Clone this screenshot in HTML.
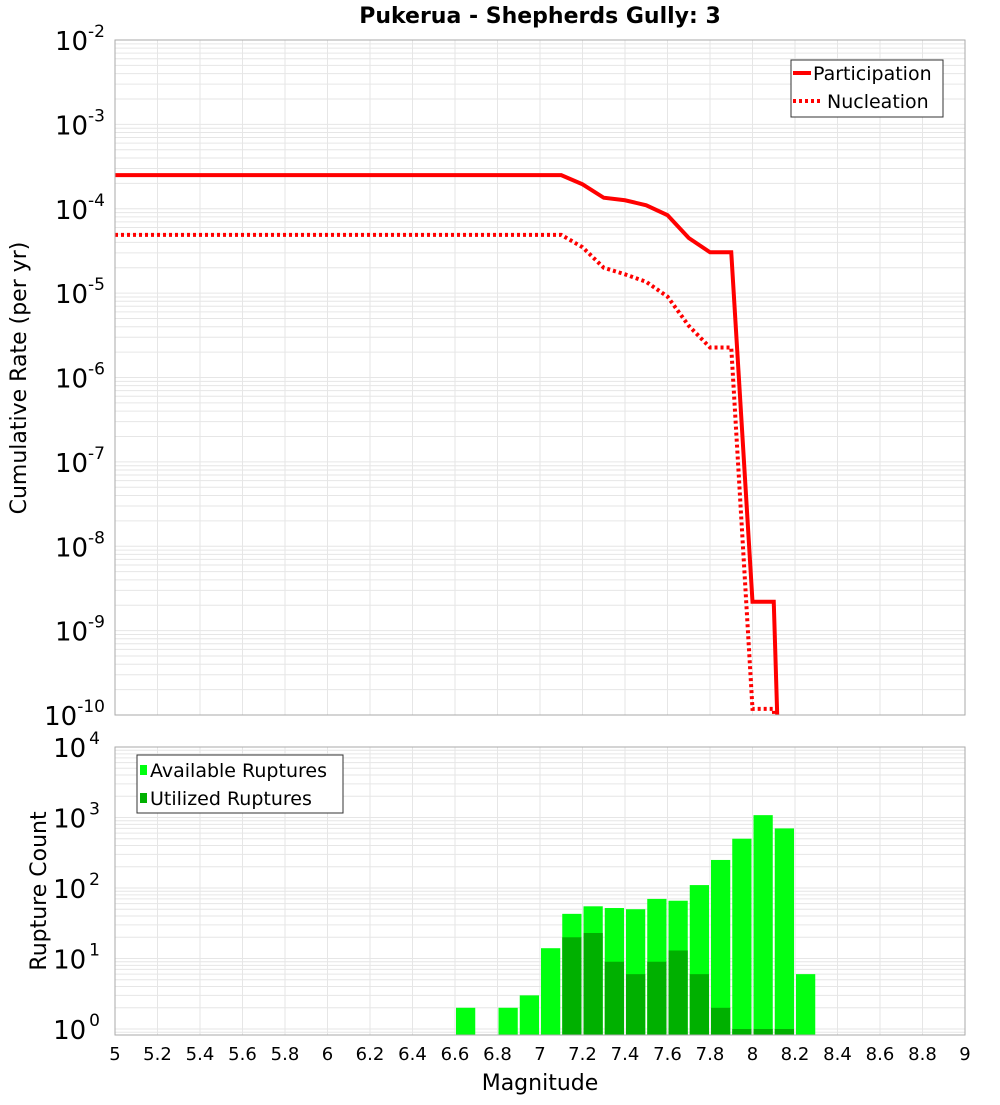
<!DOCTYPE html>
<html><head><meta charset="utf-8"><style>
body{margin:0;background:#fff;}
svg text{font-family:"DejaVu Sans","Liberation Sans",sans-serif;}
</style></head><body>
<svg id="chart" width="1000" height="1100" xmlns="http://www.w3.org/2000/svg">
<rect width="1000" height="1100" fill="#fff"/>
<text x="540" y="23" text-anchor="middle" font-size="22" font-weight="bold">Pukerua - Shepherds Gully: 3</text>
<g id="topPanel"></g>
<g id="botPanel"></g>
<text transform="translate(26,378) rotate(-90)" text-anchor="middle" font-size="22">Cumulative Rate (per yr)</text>
<text transform="translate(46,891) rotate(-90)" text-anchor="middle" font-size="22">Rupture Count</text>
<text x="540" y="1090" text-anchor="middle" font-size="22">Magnitude</text>
</svg>
<script>
const partMags=[5,7.1,7.2,7.3,7.4,7.5,7.6,7.7,7.8,7.9,8.0,8.1,8.12];
const partRates=[2.5e-4,2.5e-4,1.95e-4,1.35e-4,1.26e-4,1.1e-4,8.4e-5,4.5e-5,3.05e-5,3.05e-5,2.2e-9,2.2e-9,5e-11];
const nuclMags=[5,7.1,7.2,7.3,7.4,7.5,7.6,7.7,7.8,7.9,8.0,8.1,8.11];
const nuclRates=[4.9e-5,4.9e-5,3.5e-5,2.0e-5,1.67e-5,1.36e-5,9.1e-6,4.1e-6,2.27e-6,2.27e-6,1.18e-10,1.18e-10,5e-11];
const binMags=[6.6,6.8,6.9,7.0,7.1,7.2,7.3,7.4,7.5,7.6,7.7,7.8,7.9,8.0,8.1,8.2];
const availCounts=[2,2,3,14,43,55,52,50,70,66,110,250,500,1080,700,6];
const usedCounts=[0,0,0,0,20,23,9,6,9,13,6,2,1,1,1,0];
const xTicks=["5","5.2","5.4","5.6","5.8","6","6.2","6.4","6.6","6.8","7","7.2","7.4","7.6","7.8","8","8.2","8.4","8.6","8.8","9"];

const NS="http://www.w3.org/2000/svg";
const L=115,R=965;
const x=m=>L+(m-5)/4*(R-L);
const T1=40,B1=715; const yTop=v=>T1+(-2-Math.log10(v))/8*(B1-T1);
const T2=747,B2=1035,MIN2=-0.085; const yBot=v=>B2-(Math.log10(v)-MIN2)/(4-MIN2)*(B2-T2);
function mk(p,tag,a){const e=document.createElementNS(NS,tag);for(const k in a)e.setAttribute(k,a[k]);p.appendChild(e);return e;}
const topG=document.getElementById('topPanel'),botG=document.getElementById('botPanel');

function grid(g,T,B,yf,d0,d1){
  for(let d=d0;d<d1;d++)for(let k=1;k<10;k++){const yy=yf(k*Math.pow(10,d));if(yy<T-0.5||yy>B+0.5)continue;
    const ln=mk(g,'line',{x1:L,x2:R,y1:yy,y2:yy,stroke:'#e6e6e6','stroke-width':1});
    
    }
  for(let i=0;i<xTicks.length;i++){const xx=x(+xTicks[i]);
    const ln=mk(g,'line',{x1:xx,x2:xx,y1:T,y2:B,stroke:'#e6e6e6','stroke-width':1});
    
    }
}
// Top panel
grid(topG,T1,B1,yTop,-10,-2);
for(let d=-2;d>=-10;d--){const yy=yTop(Math.pow(10,d));
  const t=mk(topG,'text',{x:105,y:yy+10,'text-anchor':'end','font-size':26});
  
  
  t.innerHTML='10<tspan dy="-13" font-size="17">'+d+'</tspan>';}
const cp=mk(topG,'clipPath',{id:'c1'});mk(cp,'rect',{x:L,y:T1,width:R-L,height:B1-T1});
const pp=mk(topG,'polyline',{points:partMags.map((m,i)=>x(m)+','+yTop(partRates[i])).join(' '),fill:'none',stroke:'#ff0000','stroke-width':4,'clip-path':'url(#c1)'});


const np=mk(topG,'polyline',{points:nuclMags.map((m,i)=>x(m)+','+yTop(nuclRates[i])).join(' '),fill:'none',stroke:'#ff0000','stroke-width':4,'stroke-dasharray':'3,3','clip-path':'url(#c1)'});


const f1=mk(topG,'rect',{x:L,y:T1,width:R-L,height:B1-T1,fill:'none',stroke:'#aaa'});


const lg=mk(topG,'g',{});


mk(lg,'rect',{x:791,y:60,width:152,height:57,fill:'#fff',stroke:'#333'});
mk(lg,'line',{x1:793,x2:811,y1:73,y2:73,stroke:'#f00','stroke-width':4});
mk(lg,'line',{x1:793,x2:820,y1:101,y2:101,stroke:'#f00','stroke-width':4,'stroke-dasharray':'3,3'});
const lt1=mk(lg,'text',{x:813,y:80,'font-size':19});lt1.textContent='Participation';
const lt2=mk(lg,'text',{x:827,y:108,'font-size':19});lt2.textContent='Nucleation';

// Bottom panel
grid(botG,T2,B2,yBot,-1,4);
for(let d=0;d<=4;d++){const yy=yBot(Math.pow(10,d));
  const t=mk(botG,'text',{x:100,y:yy+10,'text-anchor':'end','font-size':26});
  
  
  t.innerHTML='10<tspan dx="3" dy="-13" font-size="17">'+d+'</tspan>';}
for(let i=0;i<binMags.length;i++){
  const x0=x(binMags[i])+1,w=x(binMags[i]+0.1)-x(binMags[i])-2;
  if(availCounts[i]>0){const y0=yBot(availCounts[i]);
    const b=mk(botG,'rect',{x:x0,y:y0,width:w,height:B2-y0,fill:'#00ff0f'});
    
    }
  if(usedCounts[i]>0){const y0=yBot(usedCounts[i]);
    const b=mk(botG,'rect',{x:x0,y:y0,width:w,height:B2-y0,fill:'#00b000'});
    
    }
}
const f2=mk(botG,'rect',{x:L,y:T2,width:R-L,height:B2-T2,fill:'none',stroke:'#aaa'});


for(let i=0;i<xTicks.length;i++){
  const t=mk(botG,'text',{x:x(+xTicks[i]),y:1060,'text-anchor':'middle','font-size':18});
  
  
  t.textContent=xTicks[i];}
const lg2=mk(botG,'g',{});


mk(lg2,'rect',{x:137,y:755,width:206,height:58,fill:'#fff',stroke:'#333'});
mk(lg2,'rect',{x:140,y:765,width:7,height:10,fill:'#00ff0f'});
mk(lg2,'rect',{x:140,y:793,width:7,height:10,fill:'#00b000'});
const bt1=mk(lg2,'text',{x:150,y:777,'font-size':19});bt1.textContent='Available Ruptures';
const bt2=mk(lg2,'text',{x:150,y:805,'font-size':19});bt2.textContent='Utilized Ruptures';
</script>
</body></html>
